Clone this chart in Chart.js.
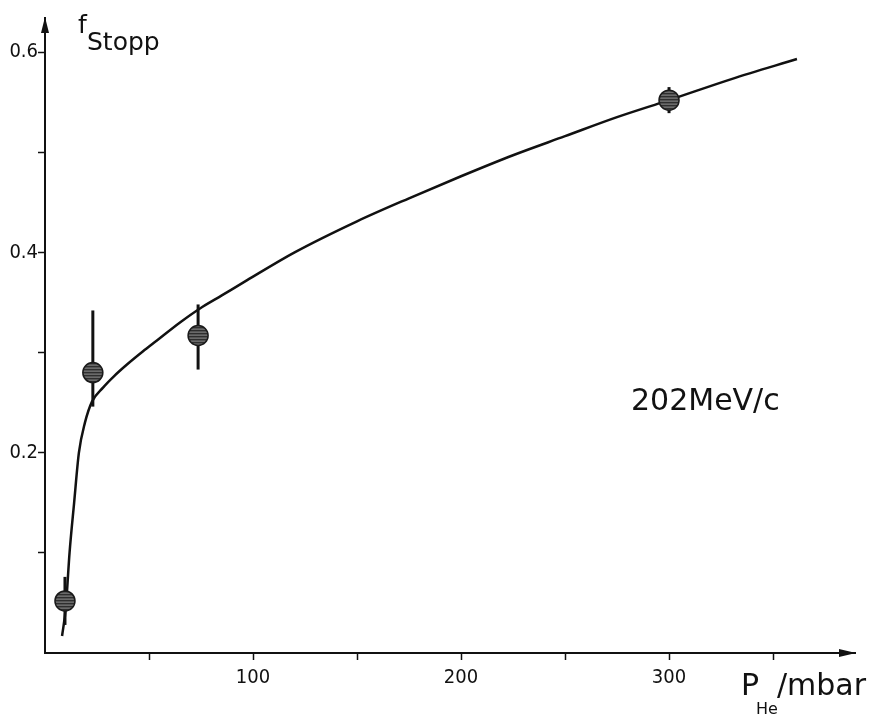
<!DOCTYPE html>
<html>
<head>
<meta charset="utf-8">
<title>f_Stopp vs P_He</title>
<script src="https://cdn.jsdelivr.net/npm/chart.js@4.4.1/dist/chart.umd.min.js"></script>
<style>
    html, body { margin: 0; padding: 0; background: #fff; }
    #wrap { width: 889px; height: 718px; }
</style>
</head>
<body>
<div id="wrap"><canvas id="chartCanvas" width="889" height="718"></canvas></div>
<script>
// ---------- Data ----------
// measured points, pressure in mbar
const pointP = [9.6, 23, 73.6, 300];
const pointF = [0.052, 0.280, 0.317, 0.552];
const errHigh = [0.076, 0.342, 0.348, 0.565];
const errLow = [0.028, 0.246, 0.283, 0.539];

// hand drawn curve through the points
const curveP = [8.2, 10, 11.8, 14, 16.3, 19.2, 22.6, 27.9, 33, 39.4, 47, 53.8, 64.9, 74.5, 85, 97,
                120, 150, 175, 200, 225, 250, 275, 300, 330, 361.5];
const curveF = [0.017, 0.045, 0.100, 0.150, 0.200, 0.230, 0.251, 0.265, 0.276, 0.288, 0.301, 0.312, 0.330, 0.344, 0.357, 0.372,
                0.400, 0.431, 0.454, 0.476, 0.497, 0.516, 0.535, 0.552, 0.573, 0.593];

// axis ticks and which of them carry a label
const xTicks = [50, 100, 150, 200, 250, 300, 350];
const xLabels = [100, 200, 300];
const yTicks = [0.1, 0.2, 0.3, 0.4, 0.5, 0.6];
const yLabels = [0.2, 0.4, 0.6];

const X_MAX = 389.4;
const Y_MAX = 0.634;
const INK = "#111";
const FONT = "'DejaVu Sans', sans-serif";
const TICK_FONT = "'DejaVu Sans Condensed', 'DejaVu Sans', sans-serif";

// ---------- Hatched grey fill for the dots ----------
function makeHatch() {
    const pc = document.createElement("canvas");
    pc.width = 4;
    pc.height = 3;
    const c = pc.getContext("2d");
    c.fillStyle = "#2e2e2e"; c.fillRect(0, 0, 4, 1);
    c.fillStyle = "#555555"; c.fillRect(0, 1, 4, 1);
    c.fillStyle = "#6a6a6a"; c.fillRect(0, 2, 4, 1);
    return c.createPattern(pc, "repeat");
}

// ---------- Error bars (under the dots) ----------
const errorBars = {
    id: "errorBars",
    beforeDatasetsDraw(chart) {
        const ctx = chart.ctx;
        const xs = chart.scales.x, ys = chart.scales.y;
        ctx.save();
        ctx.strokeStyle = INK;
        ctx.lineWidth = 3;
        for (let i = 0; i < pointP.length; i++) {
            const px = xs.getPixelForValue(pointP[i]);
            ctx.beginPath();
            ctx.moveTo(px, ys.getPixelForValue(errHigh[i]));
            ctx.lineTo(px, ys.getPixelForValue(errLow[i]));
            ctx.stroke();
        }
        ctx.restore();
    }
};

// ---------- Arrows and hand lettering ----------
const decorations = {
    id: "decorations",
    afterDraw(chart) {
        const ctx = chart.ctx;
        const a = chart.chartArea;
        ctx.save();
        ctx.fillStyle = INK;

        // arrow heads at the axis ends
        ctx.beginPath();
        ctx.moveTo(a.left, a.top - 1);
        ctx.lineTo(a.left - 4, a.top + 15);
        ctx.lineTo(a.left + 4, a.top + 15);
        ctx.closePath();
        ctx.fill();

        ctx.beginPath();
        ctx.moveTo(a.right + 1, a.bottom);
        ctx.lineTo(a.right - 16, a.bottom - 4);
        ctx.lineTo(a.right - 16, a.bottom + 4);
        ctx.closePath();
        ctx.fill();

        ctx.textBaseline = "alphabetic";
        ctx.textAlign = "left";

        // y title: f with subscript Stopp
        ctx.font = "25px " + FONT;
        ctx.fillText("f", 78, 33);
        ctx.fillText("Stopp", 87, 50);

        // beam momentum
        ctx.font = "30px " + FONT;
        ctx.fillText("202MeV/c", 631, 410);

        // x title: P_He/mbar
        ctx.font = "30px " + FONT;
        ctx.fillText("P", 741, 695);
        ctx.fillText("/mbar", 777, 695);
        ctx.font = "16px " + FONT;
        ctx.fillText("He", 756, 714);

        ctx.restore();
    }
};

// ---------- Chart ----------
function drawChart() {
    const ctx = document.getElementById("chartCanvas").getContext("2d");

    const points = pointP.map((p, i) => ({ x: p, y: pointF[i] }));
    const curve = curveP.map((p, i) => ({ x: p, y: curveF[i] }));

    new Chart(ctx, {
        type: "scatter",
        data: {
            datasets: [
                {
                    label: "Messpunkte",
                    data: points,
                    order: 0,
                    pointRadius: 10,
                    pointHoverRadius: 10,
                    backgroundColor: makeHatch(),
                    borderColor: "#1a1a1a",
                    borderWidth: 1.5
                },
                {
                    label: "Kurve",
                    data: curve,
                    order: 1,
                    showLine: true,
                    cubicInterpolationMode: "monotone",
                    pointRadius: 0,
                    borderColor: INK,
                    borderWidth: 2.5
                }
            ]
        },
        options: {
            responsive: false,
            animation: false,
            layout: { padding: { top: 18, right: 34, left: 0, bottom: 0 } },
            plugins: {
                legend: { display: false },
                tooltip: { enabled: false }
            },
            scales: {
                x: {
                    type: "linear",
                    min: 0,
                    max: X_MAX,
                    afterFit: s => { s.height = 65; },
                    afterBuildTicks: s => { s.ticks = xTicks.map(v => ({ value: v })); },
                    border: { display: true, color: INK, width: 2 },
                    grid: { drawOnChartArea: false, drawTicks: true, tickLength: 7, tickWidth: 1.5, tickColor: INK },
                    ticks: {
                        color: INK,
                        padding: 6,
                        maxRotation: 0,
                        font: { family: TICK_FONT, size: 20 },
                        callback: v => xLabels.includes(v) ? String(v) : ""
                    }
                },
                y: {
                    type: "linear",
                    min: 0,
                    max: Y_MAX,
                    afterFit: s => { s.width = 45; },
                    afterBuildTicks: s => { s.ticks = yTicks.map(v => ({ value: v })); },
                    border: { display: true, color: INK, width: 2 },
                    grid: { drawOnChartArea: false, drawTicks: true, tickLength: 7, tickWidth: 1.5, tickColor: INK },
                    ticks: {
                        color: INK,
                        padding: 0,
                        font: { family: TICK_FONT, size: 20 },
                        callback: v => yLabels.some(l => Math.abs(l - v) < 1e-9) ? v.toFixed(1) : ""
                    }
                }
            }
        },
        plugins: [errorBars, decorations]
    });
}

window.onload = function() {
    drawChart();
};
</script>
</body>
</html>
